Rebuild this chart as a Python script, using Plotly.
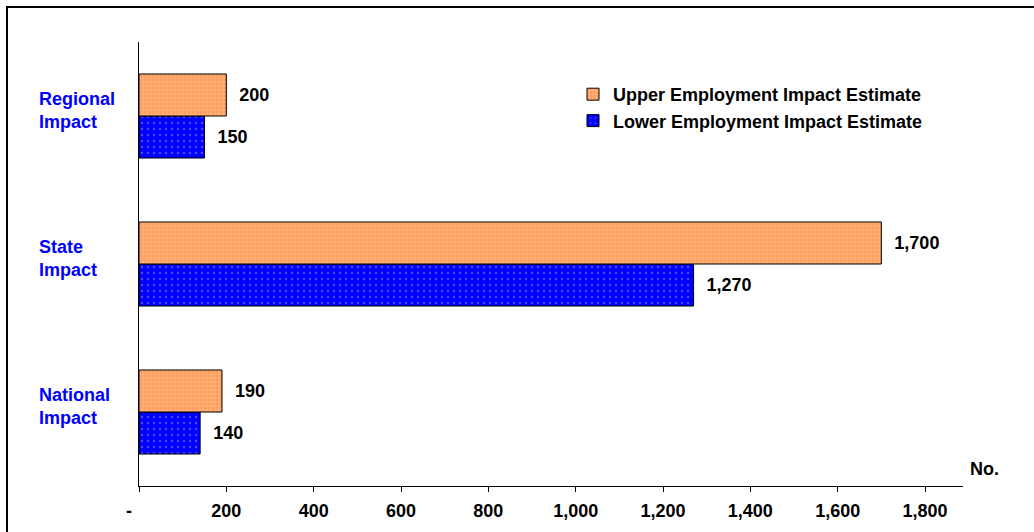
import plotly.graph_objects as go

categories = ["National Impact", "State Impact", "Regional Impact"]
cat_labels = ["National<br>Impact", "State<br>Impact", "Regional<br>Impact"]
upper = [190, 1700, 200]
lower = [140, 1270, 150]
tick_vals = [0, 200, 400, 600, 800, 1000, 1200, 1400, 1600, 1800]
tick_text = ["-\u00a0\u00a0\u00a0\u00a0", "200", "400", "600", "800", "1,000", "1,200", "1,400", "1,600", "1,800"]

FONT = "Arial, Liberation Sans, sans-serif"
FS = 18
W, H = 1034, 532
ML, MR, MT, MB = 139, 71, 42, 46
PW, PH = W - ML - MR, H - MT - MB


def px_to_paper_x(px):
    return (px - ML) / PW


def px_to_paper_y(py):
    return (H - MB - py) / PH


fig = go.Figure()
fig.add_trace(go.Bar(
    y=categories, x=lower, orientation="h", name="Lower Employment Impact Estimate",
    marker=dict(color="#0000FF", line=dict(color="black", width=1),
                pattern=dict(shape=".", fgcolor="#8C8CFF", bgcolor="#0000FF", size=6, solidity=0.15)),
    texttemplate="\u00a0\u00a0%{x:,}", textposition="outside",
    textfont=dict(family=FONT, size=FS, color="black", weight="bold"),
    cliponaxis=False,
))
fig.add_trace(go.Bar(
    y=categories, x=upper, orientation="h", name="Upper Employment Impact Estimate",
    marker=dict(color="#FFB07A", line=dict(color="black", width=1),
                pattern=dict(shape=".", fgcolor="#FF8633", bgcolor="#FFB07A", size=4, solidity=0.45)),
    texttemplate="\u00a0\u00a0%{x:,}", textposition="outside",
    textfont=dict(family=FONT, size=FS, color="black", weight="bold"),
    cliponaxis=False,
))

annotations = []
for c, lab in zip(categories, cat_labels):
    annotations.append(dict(
        x=px_to_paper_x(37), xref="paper", y=c, yref="y", text=lab, showarrow=False,
        xanchor="left", yanchor="middle", align="left",
        font=dict(family=FONT, size=FS, color="#0000FF", weight="bold"), yshift=6,
    ))
annotations.append(dict(
    x=px_to_paper_x(968), xref="paper", y=px_to_paper_y(469), yref="paper", text="No.",
    showarrow=False, xanchor="left", yanchor="middle",
    font=dict(family=FONT, size=FS, color="black", weight="bold"),
))

fig.update_layout(
    width=W, height=H,
    margin=dict(l=ML, r=MR, t=MT, b=MB),
    paper_bgcolor="white", plot_bgcolor="white",
    barmode="group", bargap=0.432, bargroupgap=0,
    showlegend=True,
    legend=dict(x=px_to_paper_x(573), y=px_to_paper_y(76), xanchor="left", yanchor="top",
                traceorder="reversed", bgcolor="rgba(0,0,0,0)",
                font=dict(family=FONT, size=FS, color="black", weight="bold"),
                itemwidth=30),
    xaxis=dict(range=[0, 1887], tickvals=tick_vals, ticktext=tick_text,
               showgrid=False, zeroline=False, showline=True, linecolor="black", linewidth=1,
               ticks="outside", ticklen=5, tickcolor="black", ticklabelstandoff=3,
               tickfont=dict(family=FONT, size=FS, color="black", weight="bold")),
    yaxis=dict(categoryorder="array", categoryarray=categories, showticklabels=False,
               showgrid=False, zeroline=False, showline=True, linecolor="black", linewidth=1,
               ticks=""),
    annotations=annotations,
    shapes=[dict(type="rect", xref="paper", yref="paper",
                 x0=px_to_paper_x(7), x1=px_to_paper_x(1045),
                 y0=px_to_paper_y(545), y1=px_to_paper_y(7),
                 line=dict(color="black", width=2), fillcolor="rgba(0,0,0,0)", layer="below")],
)

fig.write_html("out.html")
